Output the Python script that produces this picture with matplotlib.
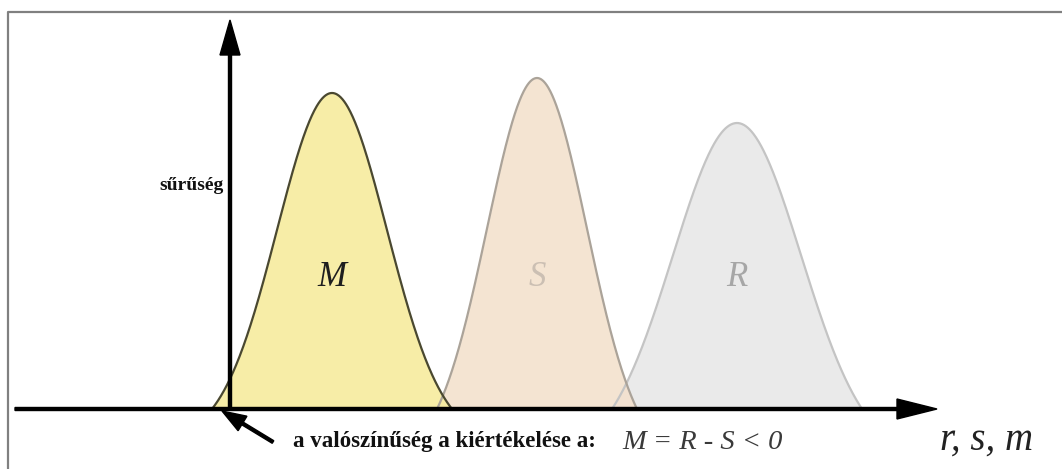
import numpy as np
import matplotlib.pyplot as plt

# density curves: M (margin), S (load), R (resistance)
# positions / heights are in pixel-like units of the picture
names = ['M', 'S', 'R']
centers = [332, 537, 737]
peaks = [316, 331, 286]
sigmas = [55, 50, 64]
half_bases = [120, 100, 125]
fill_colors = ['#F7EC9E', '#F3E1CE', '#E8E8E8']
edge_colors = ['#4A4830', '#ABA399', '#C4C4C4']
label_colors = ['#1E1E1E', '#CBBFB3', '#A6A6A6']

y_label = 'sűrűség'
note_text = 'a valószínűség a kiértékelése a:'
formula_text = 'M = R - S < 0'
axis_text = 'r, s, m'


def bump(x, c, h, s, hb):
    # gaussian shape cut off at the base so it meets the axis
    g = np.exp(-(x - c) ** 2 / (2 * s ** 2))
    g0 = np.exp(-hb ** 2 / (2 * s ** 2))
    return np.clip(h * (g - g0) / (1 - g0), 0, None)


fig = plt.figure(figsize=(10.62, 4.69), dpi=100)
ax = fig.add_axes([0, 0, 1, 1])
ax.set_xlim(0, 1062)
ax.set_ylim(-60, 409)
ax.axis('off')

# curves, drawn back to front
order = [2, 1, 0]
for z, i in enumerate(order):
    x = np.linspace(centers[i] - half_bases[i], centers[i] + half_bases[i], 400)
    y = bump(x, centers[i], peaks[i], sigmas[i], half_bases[i])
    ax.fill_between(x, 0, y, color=fill_colors[i], alpha=0.9, lw=0, zorder=2 + z)
    ax.plot(x, y, color=edge_colors[i], lw=1.6, zorder=5 + z)
    ax.text(centers[i], 132, names[i], ha='center', va='center', fontsize=25,
            style='italic', family='Liberation Serif', color=label_colors[i], zorder=10)

# axes arrows
ax.arrow(15, 0, 922, 0, width=3, head_width=20, head_length=40,
         length_includes_head=True, color='black', zorder=12)
ax.arrow(230, -1, 0, 390, width=3, head_width=20, head_length=35,
         length_includes_head=True, color='black', zorder=12)
# pointer to the origin
ax.arrow(273, -33, -51, 31, width=3, head_width=17, head_length=24,
         length_includes_head=True, color='black', zorder=12)

# frame around the picture
ax.plot([8, 8, 1062], [-60, 397, 397], color='#808080', lw=1.6, zorder=1)

ax.text(224, 224, y_label, ha='right', va='center', fontsize=14,
        weight='bold', family='Liberation Serif', color='#111111')
ax.text(293, -32, note_text, ha='left', va='center', fontsize=16.5,
        weight='bold', family='Liberation Serif', color='#111111')
ax.text(622, -33, formula_text, ha='left', va='center', fontsize=20.5,
        style='italic', family='Liberation Serif', color='#3A3A3A')
ax.text(940, -31, axis_text, ha='left', va='center', fontsize=28,
        style='italic', family='Liberation Serif', color='#222222')

fig.savefig('out.png', dpi=100, facecolor='white')
